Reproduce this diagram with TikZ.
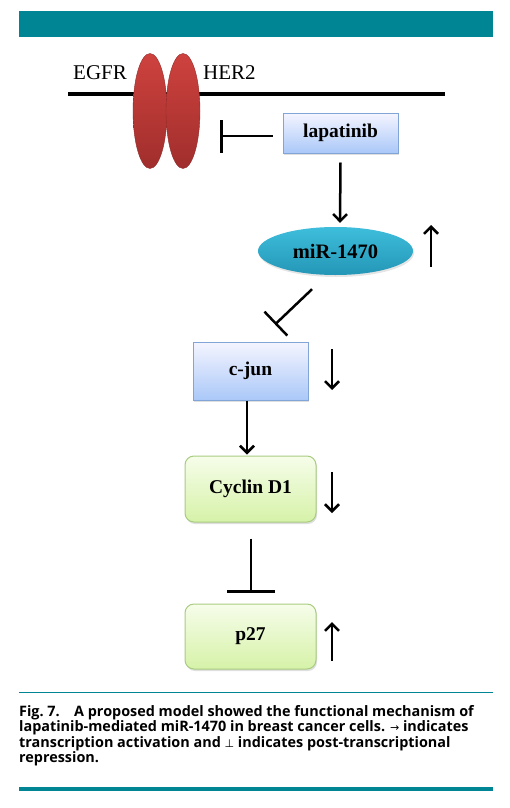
\documentclass[tikz,border=0pt]{standalone}
\usepackage{fontspec}
\setmainfont{Liberation Serif}
\newfontfamily\capfont{Open Sans}
\newfontfamily\symfont{DejaVu Sans}
\usetikzlibrary{arrows.meta,shapes.geometric,calc,shadows}
\definecolor{teal1}{RGB}{0,133,148}
\definecolor{blueB}{RGB}{130,165,215}
\definecolor{greenB}{RGB}{168,204,128}
\definecolor{redT}{RGB}{206,66,62}
\definecolor{redB}{RGB}{160,46,44}
\definecolor{cyanT}{RGB}{62,190,220}
\definecolor{cyanB}{RGB}{36,150,182}
\tikzset{
  bluebox/.style={draw=blueB, line width=1pt, top color=blue!4!white, bottom color={rgb,255:red,170;green,200;blue,248},
    font=\bfseries\fontsize{19.5}{21}\selectfont, inner sep=0pt, drop shadow={opacity=0.25,shadow xshift=1pt,shadow yshift=-2pt}},
  greenbox/.style={draw=greenB, line width=1pt, rounded corners=9pt, top color={rgb,255:red,246;green,253;blue,234}, bottom color={rgb,255:red,214;green,242;blue,168},
    font=\bfseries\fontsize{19.5}{21}\selectfont, inner sep=0pt, drop shadow={opacity=0.25,shadow xshift=1pt,shadow yshift=-2pt}},
  receptor/.style={ellipse, top color=redT, bottom color=redB, draw=redB!90!black, line width=0.4pt, inner sep=0pt},
  act/.style={line width=2.5pt, -{Straight Barb[length=7pt,width=14pt]}},
  inh/.style={line width=2.5pt},
  lbl/.style={font=\fontsize{21}{23}\selectfont, inner sep=0pt},
  captext/.style={font=\capfont\bfseries\fontsize{14.4}{15.4}\selectfont, anchor=north west, inner sep=0pt, align=left}
}
\begin{document}
\begin{tikzpicture}[x=1pt,y=-1pt]
\useasboundingbox (0,0) rectangle (510,808);
\fill[white] (0,0) rectangle (510,808);
% top bar
\fill[teal1] (19,11) rectangle (493,37);
% membrane
\draw[line width=4pt] (68,93.5) -- (445,93.5);
\node[lbl, anchor=base west] (egfr) at (73,79) {EGFR};
\node[lbl, anchor=base west] (her2) at (203,79) {HER2};
\node[receptor, minimum width=34pt, minimum height=115pt] (r1) at (150,111) {};
\node[receptor, minimum width=34pt, minimum height=115pt] (r2) at (183,111) {};
% nodes
\node[bluebox, minimum width=115pt, minimum height=40pt] (lap) at (340.5,133) {lapatinib};
\node[ellipse, top color=cyanT, bottom color=cyanB, draw=none, minimum width=155pt, minimum height=48pt, inner sep=0pt,
  font=\bfseries\fontsize{20.5}{22}\selectfont, drop shadow={opacity=0.2,shadow xshift=1pt,shadow yshift=-2pt}] (mir) at (335.5,251) {miR-1470};
\node[bluebox, minimum width=115pt, minimum height=58pt] (cjun) at (250.5,371) {c-jun};
\node[greenbox, minimum width=131pt, minimum height=66pt] (cyc) at (250.5,489) {Cyclin D1};
\node[greenbox, minimum width=131pt, minimum height=65pt] (p27) at (250.5,636.5) {p27};
% connectors
\draw[inh, -{Bar[width=33pt]}] ($(lap.west)+(-10,3)$) -- ($(r2.east)+(20,25)$);
\draw[act] ($(lap.south)+(0,9)$) -- ($(mir.north)+(4.5,-4)$);
\draw[inh, -{Bar[width=33pt]}] ($(mir.south)+(-23.5,14)$) -- ($(cjun.north)+(24.5,-17)$);
\draw[act] ($(cjun.south)+(-3.5,0)$) -- ($(cyc.north)+(-3.5,-1)$);
\draw[inh, -{Bar[width=48pt]}] ($(cyc.south)+(0.5,16)$) -- ($(p27.north)+(0.5,-11)$);
% up/down indicators
\coordinate (u1a) at (431,267); \coordinate (u1b) at (431,225);
\draw[act] (u1a) -- (u1b);
\coordinate (d1a) at (332,349); \coordinate (d1b) at (332,390);
\draw[act] (d1a) -- (d1b);
\coordinate (d2a) at (332,472); \coordinate (d2b) at (332,513);
\draw[act] (d2a) -- (d2b);
\coordinate (u2a) at (332,661); \coordinate (u2b) at (332,622);
\draw[act] (u2a) -- (u2b);
% caption
\draw[teal1, line width=1pt] (19,692) -- (493,692);
\node[captext] (cap) at (19,705) {Fig.~7.\hspace{1.0em}A proposed model showed the functional mechanism of\\
lapatinib-mediated miR-1470 in breast cancer cells. {\symfont\mdseries\fontsize{11}{15.4}\selectfont →} indicates\\
transcription activation and {\symfont\mdseries\fontsize{11}{15.4}\selectfont ⊥} indicates post-transcriptional\\
repression.};
\fill[teal1] (19,787) rectangle (493,791);
\end{tikzpicture}
\end{document}
